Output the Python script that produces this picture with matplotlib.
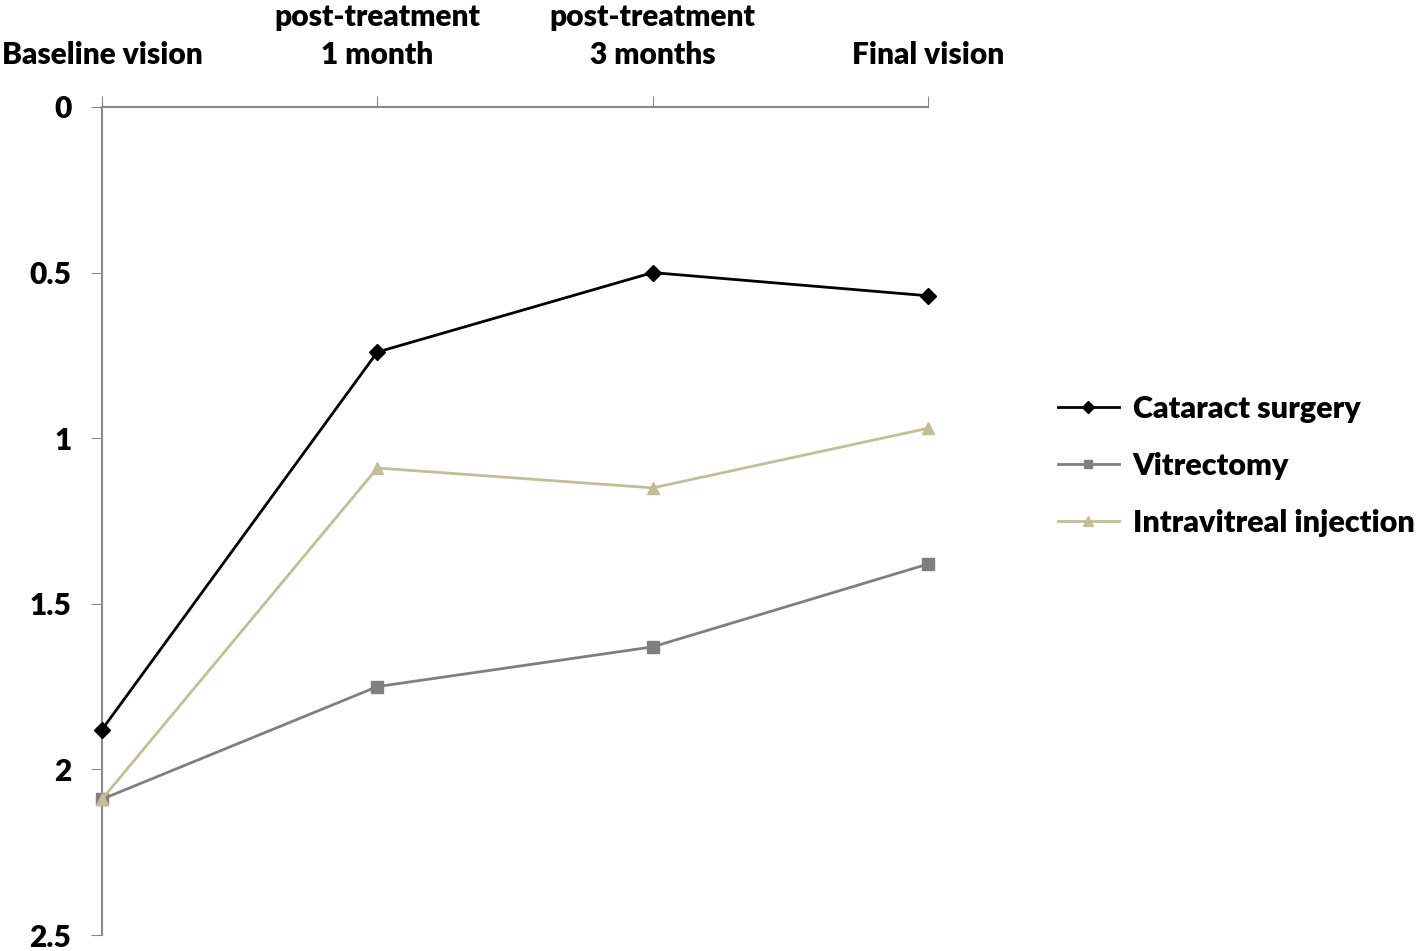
import matplotlib
matplotlib.use("Agg")
import matplotlib.pyplot as plt

plt.rcParams["font.family"] = ["Lato", "DejaVu Sans"]
plt.rcParams["font.weight"] = "heavy"

# --- data ---
timepoints = ["Baseline vision", "post-treatment\n1 month", "post-treatment\n3 months", "Final vision"]
cataract = [1.88, 0.74, 0.50, 0.57]
vitrectomy = [2.09, 1.75, 1.63, 1.38]
intravitreal = [2.09, 1.09, 1.15, 0.97]
y_ticks = [0, 0.5, 1, 1.5, 2, 2.5]
y_labels = ["0", "0.5", "1", "1.5", "2", "2.5"]

fig = plt.figure(figsize=(14.16, 9.51), dpi=100)
ax = fig.add_axes([0.072, 0.0168, 0.5834, 0.8707])

x = range(len(timepoints))
ax.plot(x, cataract, color="black", lw=2, marker="D", ms=8, label="Cataract surgery", zorder=4)
ax.plot(x, vitrectomy, color="#7f7f7f", lw=2, marker="s", ms=8, label="Vitrectomy", zorder=3)
ax.plot(x, intravitreal, color="#c4bd97", lw=2, marker="^", ms=9, label="Intravitreal injection", zorder=3)

ax.set_xlim(0, 3)
ax.set_ylim(2.5, 0)
ax.set_yticks(y_ticks)
ax.set_yticklabels(y_labels, fontsize=21.5, fontweight="heavy")
ax.set_xticks(list(x))
ax.set_xticklabels(timepoints, fontsize=21.5, fontweight="heavy", linespacing=1.45)
ax.xaxis.tick_top()
ax.tick_params(axis="x", direction="out", length=8, color="#888888", pad=19)
ax.tick_params(axis="y", direction="out", length=8, color="#888888", pad=14)

for s in ["right", "bottom"]:
    ax.spines[s].set_visible(False)
for s in ["left", "top"]:
    ax.spines[s].set_color("#888888")
    ax.spines[s].set_linewidth(1.5)
for ln in ax.lines:
    ln.set_clip_on(False)

fig.legend(loc="center left", bbox_to_anchor=(0.747, 0.51), frameon=False,
           prop={"size": 22, "weight": "heavy"}, handlelength=2.0, handletextpad=0.45,
           labelspacing=0.95, markerscale=0.8, borderpad=0, borderaxespad=0)

fig.savefig("out.png", dpi=100)
